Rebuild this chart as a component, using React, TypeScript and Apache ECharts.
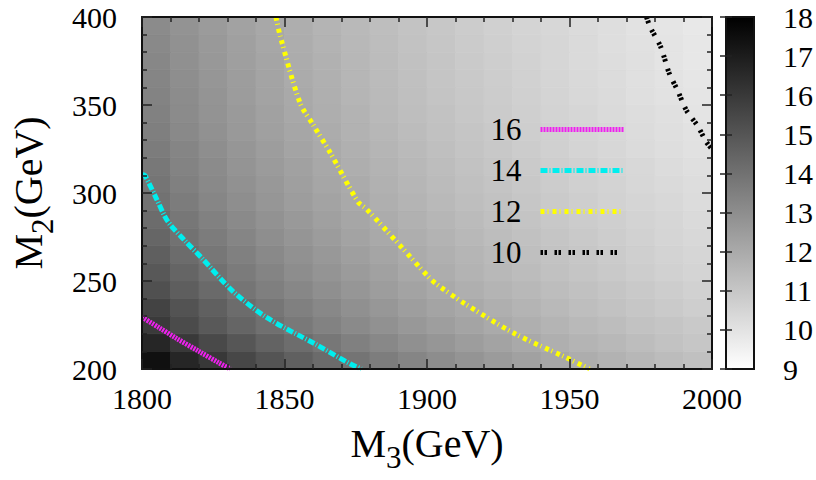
import { useEffect, useRef } from "react";
import * as echarts from "echarts";

// Cell centres of the M3 x M2 scan (GeV)
const m3Centers = [1805, 1815, 1825, 1835, 1845, 1855, 1865, 1875, 1885, 1895, 1905, 1915, 1925, 1935, 1945, 1955, 1965, 1975, 1985, 1995];
const m2Centers = [205, 215, 225, 235, 245, 255, 265, 275, 285, 295, 305, 315, 325, 335, 345, 355, 365, 375, 385, 395];

// Scanned values, one row per M2 cell (bottom to top), one column per M3 cell
const scanValues = [
  [17.43, 16.67, 16.04, 15.5, 15.03, 14.61, 14.23, 13.89, 13.58, 13.29, 13.02, 12.77, 12.53, 12.31, 12.11, 11.91, 11.72, 11.54, 11.37, 11.21],
  [16.67, 16.0, 15.44, 14.95, 14.52, 14.14, 13.8, 13.49, 13.2, 12.93, 12.69, 12.46, 12.24, 12.04, 11.84, 11.66, 11.49, 11.32, 11.16, 11.01],
  [15.96, 15.37, 14.87, 14.44, 14.06, 13.72, 13.41, 13.13, 12.87, 12.64, 12.41, 12.2, 12.01, 11.82, 11.65, 11.48, 11.32, 11.17, 11.03, 10.89],
  [15.63, 15.08, 14.6, 14.19, 13.83, 13.5, 13.2, 12.93, 12.68, 12.44, 12.22, 12.02, 11.83, 11.65, 11.48, 11.31, 11.16, 11.01, 10.87, 10.73],
  [15.19, 14.68, 14.25, 13.87, 13.53, 13.23, 12.95, 12.69, 12.46, 12.24, 12.03, 11.84, 11.66, 11.49, 11.33, 11.18, 11.03, 10.89, 10.76, 10.63],
  [14.91, 14.44, 14.02, 13.66, 13.33, 13.04, 12.77, 12.53, 12.3, 12.08, 11.88, 11.7, 11.52, 11.35, 11.2, 11.05, 10.9, 10.77, 10.63, 10.51],
  [14.65, 14.2, 13.81, 13.47, 13.16, 12.88, 12.63, 12.39, 12.17, 11.97, 11.78, 11.6, 11.43, 11.27, 11.11, 10.97, 10.83, 10.7, 10.57, 10.45],
  [14.41, 13.99, 13.62, 13.3, 13.0, 12.74, 12.49, 12.26, 12.05, 11.86, 11.67, 11.5, 11.33, 11.18, 11.03, 10.89, 10.76, 10.63, 10.5, 10.39],
  [14.19, 13.79, 13.44, 13.13, 12.85, 12.59, 12.36, 12.14, 11.94, 11.75, 11.57, 11.4, 11.24, 11.09, 10.95, 10.81, 10.68, 10.55, 10.43, 10.32],
  [13.98, 13.61, 13.27, 12.98, 12.71, 12.46, 12.23, 12.02, 11.82, 11.64, 11.47, 11.3, 11.15, 11.0, 10.86, 10.73, 10.6, 10.48, 10.37, 10.25],
  [13.86, 13.5, 13.17, 12.88, 12.62, 12.38, 12.15, 11.95, 11.75, 11.57, 11.4, 11.24, 11.09, 10.94, 10.8, 10.67, 10.54, 10.42, 10.31, 10.19],
  [13.75, 13.39, 13.08, 12.79, 12.53, 12.3, 12.08, 11.87, 11.68, 11.5, 11.33, 11.17, 11.02, 10.87, 10.74, 10.61, 10.48, 10.36, 10.24, 10.13],
  [13.64, 13.3, 12.99, 12.71, 12.45, 12.22, 12.0, 11.79, 11.6, 11.42, 11.25, 11.09, 10.94, 10.8, 10.66, 10.53, 10.4, 10.28, 10.17, 10.06],
  [13.52, 13.18, 12.88, 12.61, 12.36, 12.13, 11.92, 11.72, 11.53, 11.36, 11.19, 11.04, 10.89, 10.74, 10.61, 10.48, 10.36, 10.24, 10.12, 10.01],
  [13.44, 13.11, 12.82, 12.55, 12.3, 12.08, 11.86, 11.67, 11.48, 11.31, 11.14, 10.99, 10.84, 10.7, 10.56, 10.43, 10.31, 10.19, 10.08, 9.97],
  [13.38, 13.06, 12.77, 12.5, 12.26, 12.03, 11.82, 11.62, 11.44, 11.27, 11.1, 10.94, 10.8, 10.65, 10.52, 10.39, 10.26, 10.14, 10.03, 9.92],
  [13.31, 12.99, 12.71, 12.45, 12.21, 11.98, 11.78, 11.58, 11.4, 11.22, 11.06, 10.9, 10.76, 10.62, 10.48, 10.35, 10.23, 10.11, 9.99, 9.88],
  [13.24, 12.93, 12.65, 12.4, 12.16, 11.94, 11.74, 11.54, 11.36, 11.19, 11.03, 10.87, 10.73, 10.59, 10.45, 10.32, 10.2, 10.08, 9.97, 9.86],
  [13.17, 12.87, 12.6, 12.34, 12.11, 11.9, 11.69, 11.5, 11.33, 11.16, 11.0, 10.84, 10.7, 10.56, 10.43, 10.3, 10.18, 10.06, 9.95, 9.84],
  [13.1, 12.81, 12.54, 12.29, 12.07, 11.85, 11.65, 11.47, 11.29, 11.12, 10.96, 10.81, 10.67, 10.53, 10.4, 10.27, 10.15, 10.03, 9.92, 9.81],
];

// Contour lines, [M3, M2] pairs
const contourLevels = ["16", "14", "12", "10"];
const contour16 = [[1800, 229.5], [1806, 223.5], [1812, 217.5], [1820, 210], [1827, 203.5], [1831, 200]];
const contour14 = [[1800, 310.5], [1801, 310], [1805, 297], [1809, 284], [1815, 273], [1821, 263], [1832, 244], [1844, 229], [1861, 214], [1873, 203], [1877, 200]];
const contour12 = [[1847, 400], [1848.6, 388.5], [1855.5, 351], [1860.2, 338.4], [1866, 323], [1875.8, 295], [1878.7, 291], [1890.3, 270.6], [1900.8, 251.9], [1904.2, 247.2], [1913.5, 236.9], [1930.9, 220], [1948.3, 206.9], [1957, 200]];
const contour10 = [[1977, 400], [1978.4, 394], [1982, 383], [1985, 368], [1988, 358], [1991, 347], [1995, 338], [1998, 329], [2000, 325]];

const m3Range = [1800, 2000];
const m2Range = [200, 400];
const colorRange = [9, 18];

const FONT = "Liberation Serif";

export default function App() {
  const ref = useRef<HTMLDivElement>(null);

  useEffect(() => {
    if (!ref.current) return;
    const chart = echarts.init(ref.current, null, { renderer: "svg" });

    const cells: number[][] = [];
    m2Centers.forEach((m2, i) => {
      m3Centers.forEach((m3, j) => {
        cells.push([m3, m2, scanValues[i][j]]);
      });
    });
    const halfX = (m3Centers[1] - m3Centers[0]) / 2;
    const halfY = (m2Centers[1] - m2Centers[0]) / 2;

    const tickStyle = { show: true, inside: true, length: 10, lineStyle: { color: "#222", width: 1.5 } };
    const minorStyle = { show: true, splitNumber: 5, length: 5, lineStyle: { color: "#222", width: 1.5 } };
    const lineStyle = { show: true, lineStyle: { color: "#111", width: 2 } };
    const numRich = { t: { fontFamily: FONT, fontSize: 30, lineHeight: 24, color: "#000" } };
    const labelStyle = {
      fontFamily: FONT,
      fontSize: 30,
      color: "#000",
      formatter: (v: number) => `{t|${v}}`,
      rich: numRich,
    };
    // main glyphs sit at the top of the line box, the index drops to its bottom
    const titleRich = {
      m: { fontFamily: FONT, fontSize: 40, lineHeight: 42, padding: [0, 0, 10, 0], verticalAlign: "bottom", color: "#000" },
      s: { fontFamily: FONT, fontSize: 31, lineHeight: 31, verticalAlign: "bottom", color: "#000" },
    };

    const contourStyles = [
      { data: contour16, color: "#ee22ee", width: 5, dash: [2, 1] },
      { data: contour14, color: "#00eeee", width: 5, dash: [7, 2, 1, 2] },
      { data: contour12, color: "#ffff00", width: 5, dash: [4, 3, 1, 4] },
      { data: contour10, color: "#000000", width: 5, dash: [2.5, 1.5, 2.5, 7.5] },
    ];
    const contourSeries = contourStyles.map((c, k) => ({
      name: contourLevels[k],
      type: "line",
      xAxisIndex: 0,
      yAxisIndex: 0,
      data: c.data,
      symbol: "none",
      smooth: 0.3,
      z: 5,
      color: c.color,
      lineStyle: { color: c.color, width: c.width, type: c.dash },
    }));

    chart.setOption({
      animation: false,
      grid: [
        { left: 137, right: 104, top: 17, bottom: 111 },
        { left: 726, width: 29, top: 17, bottom: 111 },
      ],
      visualMap: {
        show: false,
        type: "continuous",
        min: colorRange[0],
        max: colorRange[1],
        dimension: 2,
        seriesIndex: 0,
        inRange: { color: ["#ffffff", "#000000"] },
      },
      legend: {
        orient: "vertical",
        right: 185,
        top: 109,
        align: "right",
        itemWidth: 83,
        itemHeight: 14,
        itemGap: 10,
        itemStyle: { opacity: 0 },
        lineStyle: { width: "inherit", type: "inherit", color: "inherit" },
        data: contourLevels,
        formatter: (name: string) => `{t|${name}}`,
        textStyle: {
          fontFamily: FONT,
          fontSize: 30,
          color: "#000",
          padding: [0, 14, 0, 0],
          rich: { t: { fontFamily: FONT, fontSize: 31, lineHeight: 30, color: "#000" } },
        },
      },
      xAxis: [
        {
          type: "value",
          gridIndex: 0,
          position: "bottom",
          min: m3Range[0],
          max: m3Range[1],
          interval: 50,
          z: 10,
          axisLine: lineStyle,
          axisTick: tickStyle,
          minorTick: minorStyle,
          splitLine: { show: false },
          axisLabel: { ...labelStyle, margin: 17 },
          name: "{m|M}{s|3}{m|(GeV)}",
          nameLocation: "middle",
          nameGap: 62,
          nameTextStyle: { fontFamily: FONT, fontSize: 40, color: "#000", rich: titleRich },
        },
        {
          type: "value",
          gridIndex: 0,
          position: "top",
          min: m3Range[0],
          max: m3Range[1],
          interval: 50,
          z: 10,
          axisLine: lineStyle,
          axisTick: tickStyle,
          minorTick: minorStyle,
          splitLine: { show: false },
          axisLabel: { show: false },
        },
        { type: "value", gridIndex: 1, min: 0, max: 1, show: false },
      ],
      yAxis: [
        {
          type: "value",
          gridIndex: 0,
          position: "left",
          min: m2Range[0],
          max: m2Range[1],
          interval: 50,
          z: 10,
          axisLine: lineStyle,
          axisTick: tickStyle,
          minorTick: minorStyle,
          splitLine: { show: false },
          axisLabel: { ...labelStyle, margin: 25 },
          name: "{m|M}{s|2}{m|(GeV)}",
          nameLocation: "middle",
          nameGap: 84,
          nameTextStyle: { fontFamily: FONT, fontSize: 40, color: "#000", rich: titleRich },
        },
        {
          type: "value",
          gridIndex: 0,
          position: "right",
          min: m2Range[0],
          max: m2Range[1],
          interval: 50,
          z: 10,
          axisLine: lineStyle,
          axisTick: tickStyle,
          minorTick: minorStyle,
          splitLine: { show: false },
          axisLabel: { show: false },
        },
        {
          type: "value",
          gridIndex: 1,
          position: "right",
          min: colorRange[0],
          max: colorRange[1],
          interval: 1,
          z: 10,
          axisLine: lineStyle,
          axisTick: { show: true, inside: true, length: 6, lineStyle: { color: "#222", width: 1.5 } },
          splitLine: { show: false },
          axisLabel: { ...labelStyle, margin: 29 },
        },
        {
          type: "value",
          gridIndex: 1,
          position: "left",
          min: colorRange[0],
          max: colorRange[1],
          interval: 1,
          z: 10,
          axisLine: lineStyle,
          axisTick: { show: true, inside: true, length: 6, lineStyle: { color: "#222", width: 1.5 } },
          splitLine: { show: false },
          axisLabel: { show: false },
        },
      ],
      series: [
        {
          type: "custom",
          xAxisIndex: 0,
          yAxisIndex: 0,
          clip: true,
          z: 1,
          data: cells,
          renderItem: (_params: any, api: any) => {
            const x = api.value(0);
            const y = api.value(1);
            const p0 = api.coord([x - halfX, y + halfY]);
            const p1 = api.coord([x + halfX, y - halfY]);
            const color = api.visual("color");
            return {
              type: "rect",
              shape: { x: p0[0], y: p0[1], width: p1[0] - p0[0], height: p1[1] - p0[1] },
              style: { fill: color, stroke: color, lineWidth: 0.8 },
            };
          },
        },
        ...contourSeries,
        {
          type: "custom",
          xAxisIndex: 2,
          yAxisIndex: 2,
          z: 1,
          data: [[0, colorRange[0], colorRange[1]]],
          renderItem: (_params: any, api: any) => {
            const p0 = api.coord([0, api.value(2)]);
            const p1 = api.coord([1, api.value(1)]);
            return {
              type: "rect",
              shape: { x: p0[0], y: p0[1], width: p1[0] - p0[0], height: p1[1] - p0[1] },
              style: {
                fill: new echarts.graphic.LinearGradient(0, 0, 0, 1, [
                  { offset: 0, color: "#000000" },
                  { offset: 1, color: "#ffffff" },
                ]),
                stroke: "#111",
                lineWidth: 2,
              },
            };
          },
        },
      ],
    });

    return () => chart.dispose();
  }, []);

  return (
    <div
      ref={ref}
      style={{ position: "fixed", left: 0, top: 0, width: 816, height: 480, background: "#fff" }}
    />
  );
}
